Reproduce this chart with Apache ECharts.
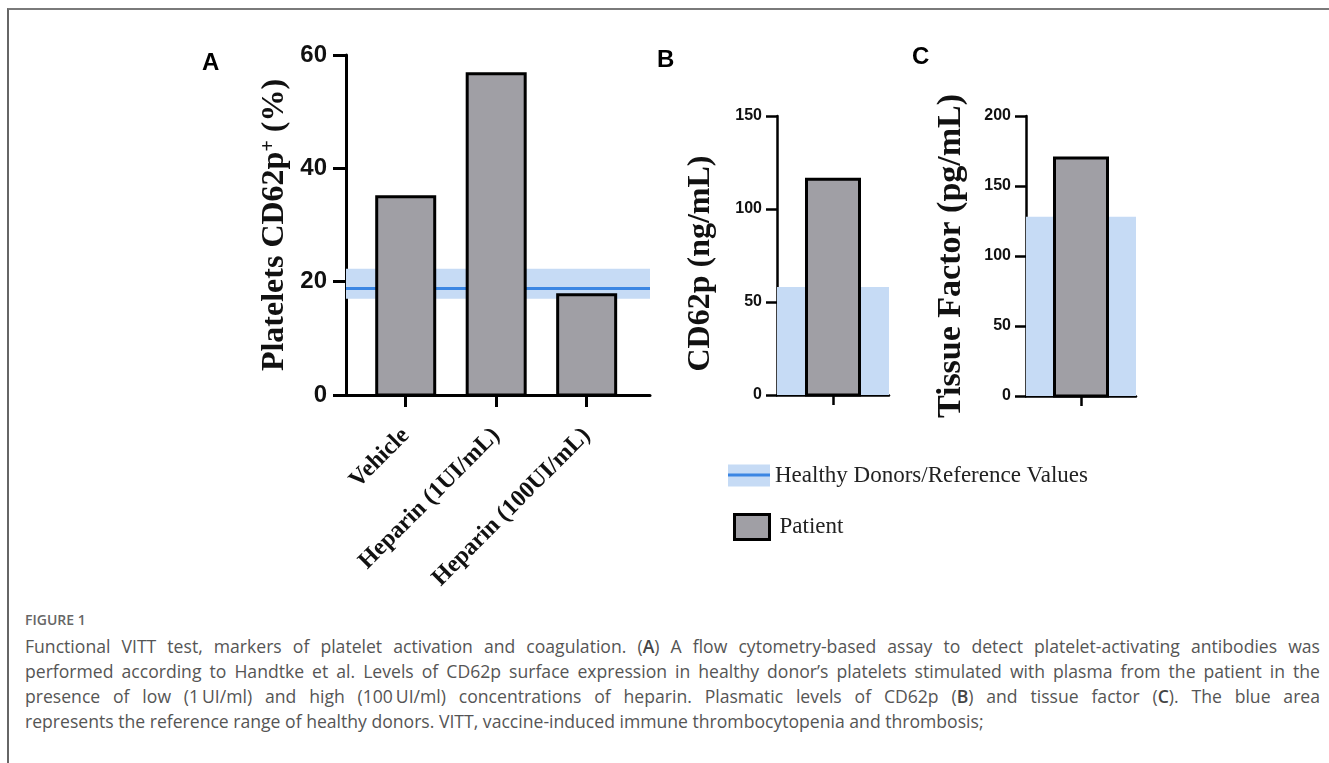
<!DOCTYPE html>
<html>
<head>
<meta charset="utf-8">
<script src="https://cdn.jsdelivr.net/npm/echarts@6/dist/echarts.min.js"></script>
<style>
html,body{margin:0;padding:0;background:#fff;width:1329px;height:763px;overflow:hidden;}
#frame{position:absolute;left:7px;top:8px;width:1322px;height:755px;border-top:2px solid #7a7a7a;border-left:2px solid #666;box-sizing:border-box;}
#chart{position:absolute;left:0;top:0;width:1329px;height:600px;}
#cap{position:absolute;left:25px;width:1295px;top:606px;font-family:'Open Sans',sans-serif;color:#555;}
#cap .fig{font-size:14px;font-weight:600;color:#666;line-height:28px;}
#cap .ln{font-size:17.6px;line-height:25px;white-space:nowrap;}
#cap .j{text-align:justify;text-align-last:justify;white-space:normal;}
#cap b{font-weight:600;color:#444;}
</style>
</head>
<body>
<div id="frame"></div>
<div id="chart"></div>
<div id="cap">
  <div class="fig">FIGURE 1</div>
  <div class="ln j">Functional VITT test, markers of platelet activation and coagulation. (<b>A</b>) A flow cytometry-based assay to detect platelet-activating antibodies was</div>
  <div class="ln j">performed according to Handtke et al. Levels of CD62p surface expression in healthy donor’s platelets stimulated with plasma from the patient in the</div>
  <div class="ln j">presence of low (1&#8201;UI/ml) and high (100&#8201;UI/ml) concentrations of heparin. Plasmatic levels of CD62p (<b>B</b>) and tissue factor (<b>C</b>). The blue area</div>
  <div class="ln">represents the reference range of healthy donors. VITT, vaccine-induced immune thrombocytopenia and thrombosis;</div>
</div>
<script>
// ---- data ----
const categoriesA = ['Vehicle', 'Heparin (1UI/mL)', 'Heparin (100UI/mL)'];
const patientA = [35, 56.7, 17.7];
const refBandA = [17, 22.3];
const refLineA = 18.9;
const yTicksA = [0, 20, 40, 60];

const patientB = [116];
const refBandB = [0, 58];
const yTicksB = [0, 50, 100, 150];

const patientC = [170];
const refBandC = [0, 128];
const yTicksC = [0, 50, 100, 150, 200];

const REF = 'Healthy Donors/Reference Values';
const PAT = 'Patient';
const BAND = '#c6dbf5';
const LINE = '#3b86e3';
const BAR = '#a09fa5';

const serif = "'Liberation Serif', 'Times New Roman', serif";
const sans = "'Liberation Sans', Arial, sans-serif";

function barRenderer(w) {
  return function (params, api) {
    const top = api.coord([api.value(0), api.value(1)]);
    const bot = api.coord([api.value(0), 0]);
    return {
      type: 'rect',
      shape: { x: top[0] - w / 2, y: top[1], width: w, height: bot[1] - top[1] },
      style: { fill: BAR, stroke: '#000', lineWidth: 3 }
    };
  };
}

function yAxisOf(ticks, gridIndex, name, gap, labelSize, lw, tickLen, margin, nameSize, namePad) {
  return {
    type: 'value', gridIndex: gridIndex,
    min: ticks[0], max: ticks[ticks.length - 1], interval: ticks[1] - ticks[0],
    axisLine: { show: true, onZero: false, lineStyle: { color: '#000', width: lw } },
    axisTick: { show: true, length: tickLen, lineStyle: { color: '#000', width: lw } },
    axisLabel: { margin: margin, fontFamily: sans, fontWeight: 'bold', fontSize: labelSize, color: '#111' },
    splitLine: { show: false },
    name: name, nameLocation: 'middle', nameGap: gap,
    nameTextStyle: {
      fontFamily: serif, fontWeight: 'bold', fontSize: nameSize, color: '#111', padding: namePad,
      rich: { sup: { fontFamily: serif, fontWeight: 'bold', fontSize: 20, color: '#111', verticalAlign: 'top' } }
    }
  };
}

function xAxisSingle(gridIndex) {
  return {
    type: 'value', gridIndex: gridIndex, min: -1, max: 1,
    axisLine: { show: true, onZero: false, lineStyle: { color: '#000', width: 2.5 } },
    axisTick: { show: true, customValues: [0], length: 10, lineStyle: { color: '#000', width: 2.5 } },
    axisLabel: { show: false }, splitLine: { show: false }
  };
}

const letterStyle = { fontFamily: sans, fontWeight: 'bold', fontSize: 24, color: '#000' };

const chart = echarts.init(document.getElementById('chart'));
chart.setOption({
  animation: false,
  backgroundColor: 'transparent',
  title: [
    { text: 'A', left: 202, top: 51, padding: 0, textStyle: letterStyle },
    { text: 'B', left: 657, top: 48, padding: 0, textStyle: letterStyle },
    { text: 'C', left: 912, top: 45, padding: 0, textStyle: letterStyle }
  ],
  legend: [
    {
      left: 728, top: 464, padding: 0, selectedMode: false,
      itemWidth: 42, itemHeight: 22,
      data: [{ name: REF, icon: 'rect', itemStyle: { color: BAND, borderWidth: 0 } }],
      textStyle: { fontFamily: serif, fontSize: 23, color: '#222' }
    },
    {
      left: 728, top: 473.5, padding: 0, selectedMode: false,
      itemWidth: 42, itemHeight: 3,
      data: [{ name: REF, icon: 'rect', itemStyle: { color: LINE, borderWidth: 0 } }],
      formatter: function () { return ''; },
      textStyle: { fontSize: 1 }
    },
    {
      left: 733, top: 513, padding: 0, selectedMode: false,
      itemWidth: 35, itemHeight: 25,
      data: [{ name: PAT, icon: 'rect', itemStyle: { color: BAR, borderColor: '#000', borderWidth: 3 } }],
      textStyle: { fontFamily: serif, fontSize: 23, color: '#222', padding: [0, 0, 0, 5] }
    }
  ],
  grid: [
    { left: 346, top: 55, width: 304, height: 340 },
    { left: 777, top: 116, width: 112, height: 279 },
    { left: 1026, top: 116, width: 110, height: 280 }
  ],
  xAxis: [
    {
      type: 'value', gridIndex: 0, min: -0.66, max: 2.7,
      axisLine: { show: true, onZero: false, lineStyle: { color: '#000', width: 3 } },
      axisTick: { show: true, customValues: [0, 1, 2], length: 12, lineStyle: { color: '#000', width: 3 } },
      axisLabel: {
        customValues: [0, 1, 2], rotate: 45, margin: 37,
        formatter: function (v) { return categoriesA[Math.round(v)]; },
        fontFamily: serif, fontWeight: 'bold', fontSize: 24, color: '#111'
      },
      splitLine: { show: false }
    },
    xAxisSingle(1),
    xAxisSingle(2)
  ],
  yAxis: [
    yAxisOf(yTicksA, 0, 'Platelets CD62p{sup|+} (%)', 55, 24, 3, 13, 19, 32, [0, 0, 0, 0]),
    yAxisOf(yTicksB, 1, 'CD62p (ng/mL)', 60, 16, 2.5, 11, 15, 32, [0, 16, 0, 0]),
    yAxisOf(yTicksC, 2, 'Tissue Factor (pg/mL)', 58, 16, 2.5, 11, 15, 34, [0, 0, 0, 0])
  ],
  series: [
    {
      type: 'line', name: REF, xAxisIndex: 0, yAxisIndex: 0, data: [], z: 1, color: LINE,
      markArea: { silent: true, z: 1, itemStyle: { color: BAND, opacity: 1 }, label: { show: false },
        data: [[{ yAxis: refBandA[0] }, { yAxis: refBandA[1] }]] },
      markLine: { silent: true, z: 1, symbol: ['none', 'none'], label: { show: false },
        lineStyle: { color: LINE, width: 3, type: 'solid' }, emphasis: { disabled: true },
        data: [{ yAxis: refLineA }] }
    },
    {
      type: 'custom', name: PAT, xAxisIndex: 0, yAxisIndex: 0, z: 5,
      data: patientA.map(function (v, i) { return [i, v]; }),
      renderItem: barRenderer(58)
    },
    {
      type: 'line', name: REF, xAxisIndex: 1, yAxisIndex: 1, data: [], z: 1, color: LINE,
      markArea: { silent: true, z: 1, itemStyle: { color: BAND, opacity: 1 }, label: { show: false },
        data: [[{ yAxis: refBandB[0] }, { yAxis: refBandB[1] }]] }
    },
    {
      type: 'custom', name: PAT, xAxisIndex: 1, yAxisIndex: 1, z: 5,
      data: patientB.map(function (v, i) { return [i, v]; }),
      renderItem: barRenderer(53)
    },
    {
      type: 'line', name: REF, xAxisIndex: 2, yAxisIndex: 2, data: [], z: 1, color: LINE,
      markArea: { silent: true, z: 1, itemStyle: { color: BAND, opacity: 1 }, label: { show: false },
        data: [[{ yAxis: refBandC[0] }, { yAxis: refBandC[1] }]] }
    },
    {
      type: 'custom', name: PAT, xAxisIndex: 2, yAxisIndex: 2, z: 5,
      data: patientC.map(function (v, i) { return [i, v]; }),
      renderItem: barRenderer(53)
    }
  ]
});
</script>
</body>
</html>
